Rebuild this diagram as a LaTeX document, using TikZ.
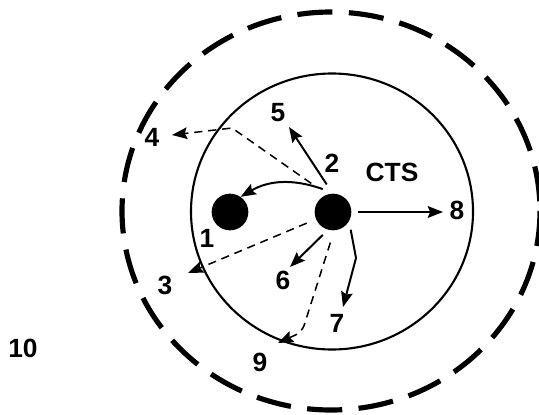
\documentclass[tikz,border=0pt]{standalone}
\usepackage{fontspec}
\setmainfont{Liberation Sans}
\usetikzlibrary{arrows.meta}

\begin{document}
\begin{tikzpicture}[x=0.03cm, y=-0.03cm,
    lbl/.style={font=\fontsize{22.5}{26}\selectfont\bfseries, inner sep=0pt},
    ion/.style={circle, fill=black, minimum size=1.1cm, inner sep=0pt},
    arr/.style={-{Stealth[length=13pt, width=10pt, inset=2pt]}, line width=1.7pt},
    darr/.style={arr, dash pattern=on 7pt off 5pt, line width=1.3pt}]
    \useasboundingbox (0,0) rectangle (539,414);

    % Vùng ngoài (nét đứt) và vòng CTS
    \draw[line width=4.4pt, dash pattern=on 30pt off 14pt] (331,211) ellipse [x radius=209, y radius=199];
    \draw[line width=1.8pt] (332,211.5) ellipse [x radius=141, y radius=138];

    % Hai hạt
    \node[ion] (d1) at (230,212) {};
    \node[ion, outer sep=0.2cm] (d2) at (333,212) {};

    % Nhãn
    \node[lbl] (n1) at (207,238) {1};
    \node[lbl] (n2) at (332,163) {2};
    \node[lbl] (n3) at (165,285) {3};
    \node[lbl] (n4) at (152,137) {4};
    \node[lbl] (n5) at (278,113) {5};
    \node[lbl] (n6) at (283,280) {6};
    \node[lbl] (n7) at (337,323) {7};
    \node[lbl] (n8) at (457,210) {8};
    \node[lbl] (n9) at (260,362) {9};
    \node[lbl] (n10) at (23,348) {10};
    \node[lbl] (cts) at (392,172) {CTS};

    % Điểm mũi tên và điểm gãy
    \coordinate (t3) at (188,273);
    \coordinate (c4) at (232,128);
    \coordinate (t4) at (172,135);
    \coordinate (t5) at (289,127);
    \coordinate (t6) at (290,267);
    \coordinate (c7) at (356,258);
    \coordinate (t7) at (343,307);
    \coordinate (t8) at (443,212);
    \coordinate (c9) at (302,332);
    \coordinate (t9) at (278,343);

    % Các đường đi
    \draw[arr] (d2.114) to[bend right=25] (d1.55);
    \draw[arr, shorten <=3pt] (d2.100) -- (t5);
    \draw[darr, shorten <=10pt] (d2.119) -- (c4) -- (t4);
    \draw[arr] (d2.0) -- (t8);
    \draw[darr, shorten <=3pt] (d2.203) -- (t3);
    \draw[arr] (d2.246) -- (t6);
    \draw[darr, rounded corners=6pt, shorten <=5pt] (d2.268) -- (c9) -- (t9);
    \draw[arr] (d2.315) -- (c7) -- (t7);
\end{tikzpicture}
\end{document}
